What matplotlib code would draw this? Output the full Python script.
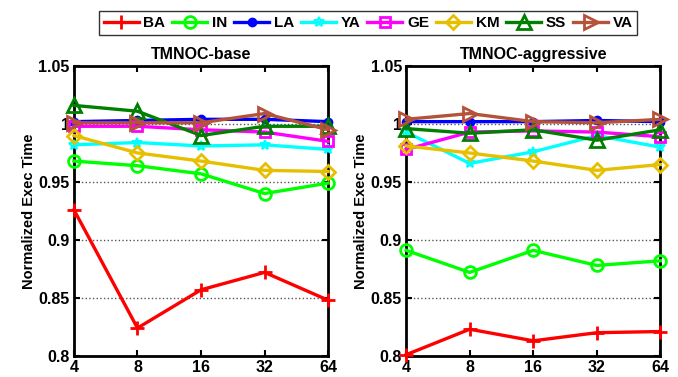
import matplotlib
matplotlib.use("Agg")
import matplotlib.pyplot as plt
import numpy as np

plt.rcParams['font.family'] = ['Liberation Sans', 'DejaVu Sans']
plt.rcParams['font.weight'] = 'bold'

x_vals = [4, 8, 16, 32, 64]
x_labels = ['4', '8', '16', '32', '64']
series_names = ['BA', 'IN', 'LA', 'YA', 'GE', 'KM', 'SS', 'VA']

base = {
    'BA': [0.926, 0.824, 0.857, 0.872, 0.848],
    'IN': [0.968, 0.964, 0.957, 0.940, 0.949],
    'LA': [1.002, 1.003, 1.004, 1.004, 1.002],
    'YA': [0.982, 0.984, 0.981, 0.982, 0.978],
    'GE': [0.998, 0.998, 0.995, 0.993, 0.985],
    'KM': [0.990, 0.975, 0.968, 0.960, 0.959],
    'SS': [1.016, 1.011, 0.990, 0.998, 0.998],
    'VA': [1.001, 1.001, 1.001, 1.009, 0.995],
}
aggressive = {
    'BA': [0.801, 0.823, 0.813, 0.820, 0.821],
    'IN': [0.891, 0.872, 0.891, 0.878, 0.882],
    'LA': [1.002, 1.002, 1.002, 1.003, 1.002],
    'YA': [0.993, 0.966, 0.976, 0.990, 0.980],
    'GE': [0.978, 0.993, 0.994, 0.993, 0.989],
    'KM': [0.981, 0.975, 0.968, 0.960, 0.965],
    'SS': [0.996, 0.992, 0.995, 0.986, 0.995],
    'VA': [1.004, 1.009, 1.002, 1.001, 1.004],
}
titles = ['TMNOC-base', 'TMNOC-aggressive']
y_ticks = [0.8, 0.85, 0.9, 0.95, 1.0, 1.05]
y_tick_labels = ['0.8', '0.85', '0.9', '0.95', '1', '1.05']

styles = {
    'BA': dict(color='#ff0000', marker='+', mfc='none', ms=10, mew=2),
    'IN': dict(color='#00ff00', marker='o', mfc='none', ms=8.5, mew=2),
    'LA': dict(color='#0000ff', marker='o', mfc='#0000ff', ms=5.5, mew=1.5),
    'YA': dict(color='#00ffff', marker='*', mfc='none', ms=7.5, mew=1.5),
    'GE': dict(color='#ff00ff', marker='s', mfc='none', ms=7.5, mew=2),
    'KM': dict(color='#e6c000', marker='D', mfc='none', ms=7.5, mew=2),
    'SS': dict(color='#008000', marker='^', mfc='none', ms=10, mew=2),
    'VA': dict(color='#b5533a', marker='>', mfc='none', ms=10, mew=2),
}

fig = plt.figure(figsize=(6.78, 3.77), dpi=100)
axes = [fig.add_axes([0.109, 0.056, 0.375, 0.769]),
        fig.add_axes([0.599, 0.056, 0.375, 0.769])]

handles = []
for ax, data, title in zip(axes, [base, aggressive], titles):
    for name in series_names:
        st = styles[name]
        h, = ax.plot(x_vals, data[name], lw=2.4, label=name, clip_on=False, zorder=3, **st)
        if ax is axes[0]:
            handles.append(h)
    ax.set_xscale('log', base=2)
    ax.set_xlim(4, 64)
    ax.set_ylim(0.8, 1.05)
    ax.set_xticks(x_vals)
    ax.set_xticklabels(x_labels)
    ax.minorticks_off()
    ax.set_yticks(y_ticks)
    ax.set_yticklabels(y_tick_labels)
    ax.yaxis.grid(True, linestyle=':', color='#555555', lw=1)
    ax.tick_params(direction='in', top=True, right=True, length=4, width=1.5,
                   labelsize=11.5, pad=3)
    for lab in ax.get_xticklabels() + ax.get_yticklabels():
        lab.set_fontweight('bold')
    for sp in ax.spines.values():
        sp.set_linewidth(2)
    ax.set_title(title, fontsize=11.5, fontweight='bold', pad=5)
    ax.set_ylabel('Normalized Exec Time', fontsize=10.5, fontweight='bold', labelpad=2)

leg = fig.legend(handles=handles, loc='center', bbox_to_anchor=(0.543, 0.939), ncol=8,
                 frameon=True, fancybox=False, edgecolor='black',
                 handlelength=2.3, handletextpad=0.3, columnspacing=0.45,
                 borderpad=0.3, prop={'weight': 'bold', 'size': 11})
leg.get_frame().set_linewidth(1)

fig.savefig('out.png', dpi=100)
